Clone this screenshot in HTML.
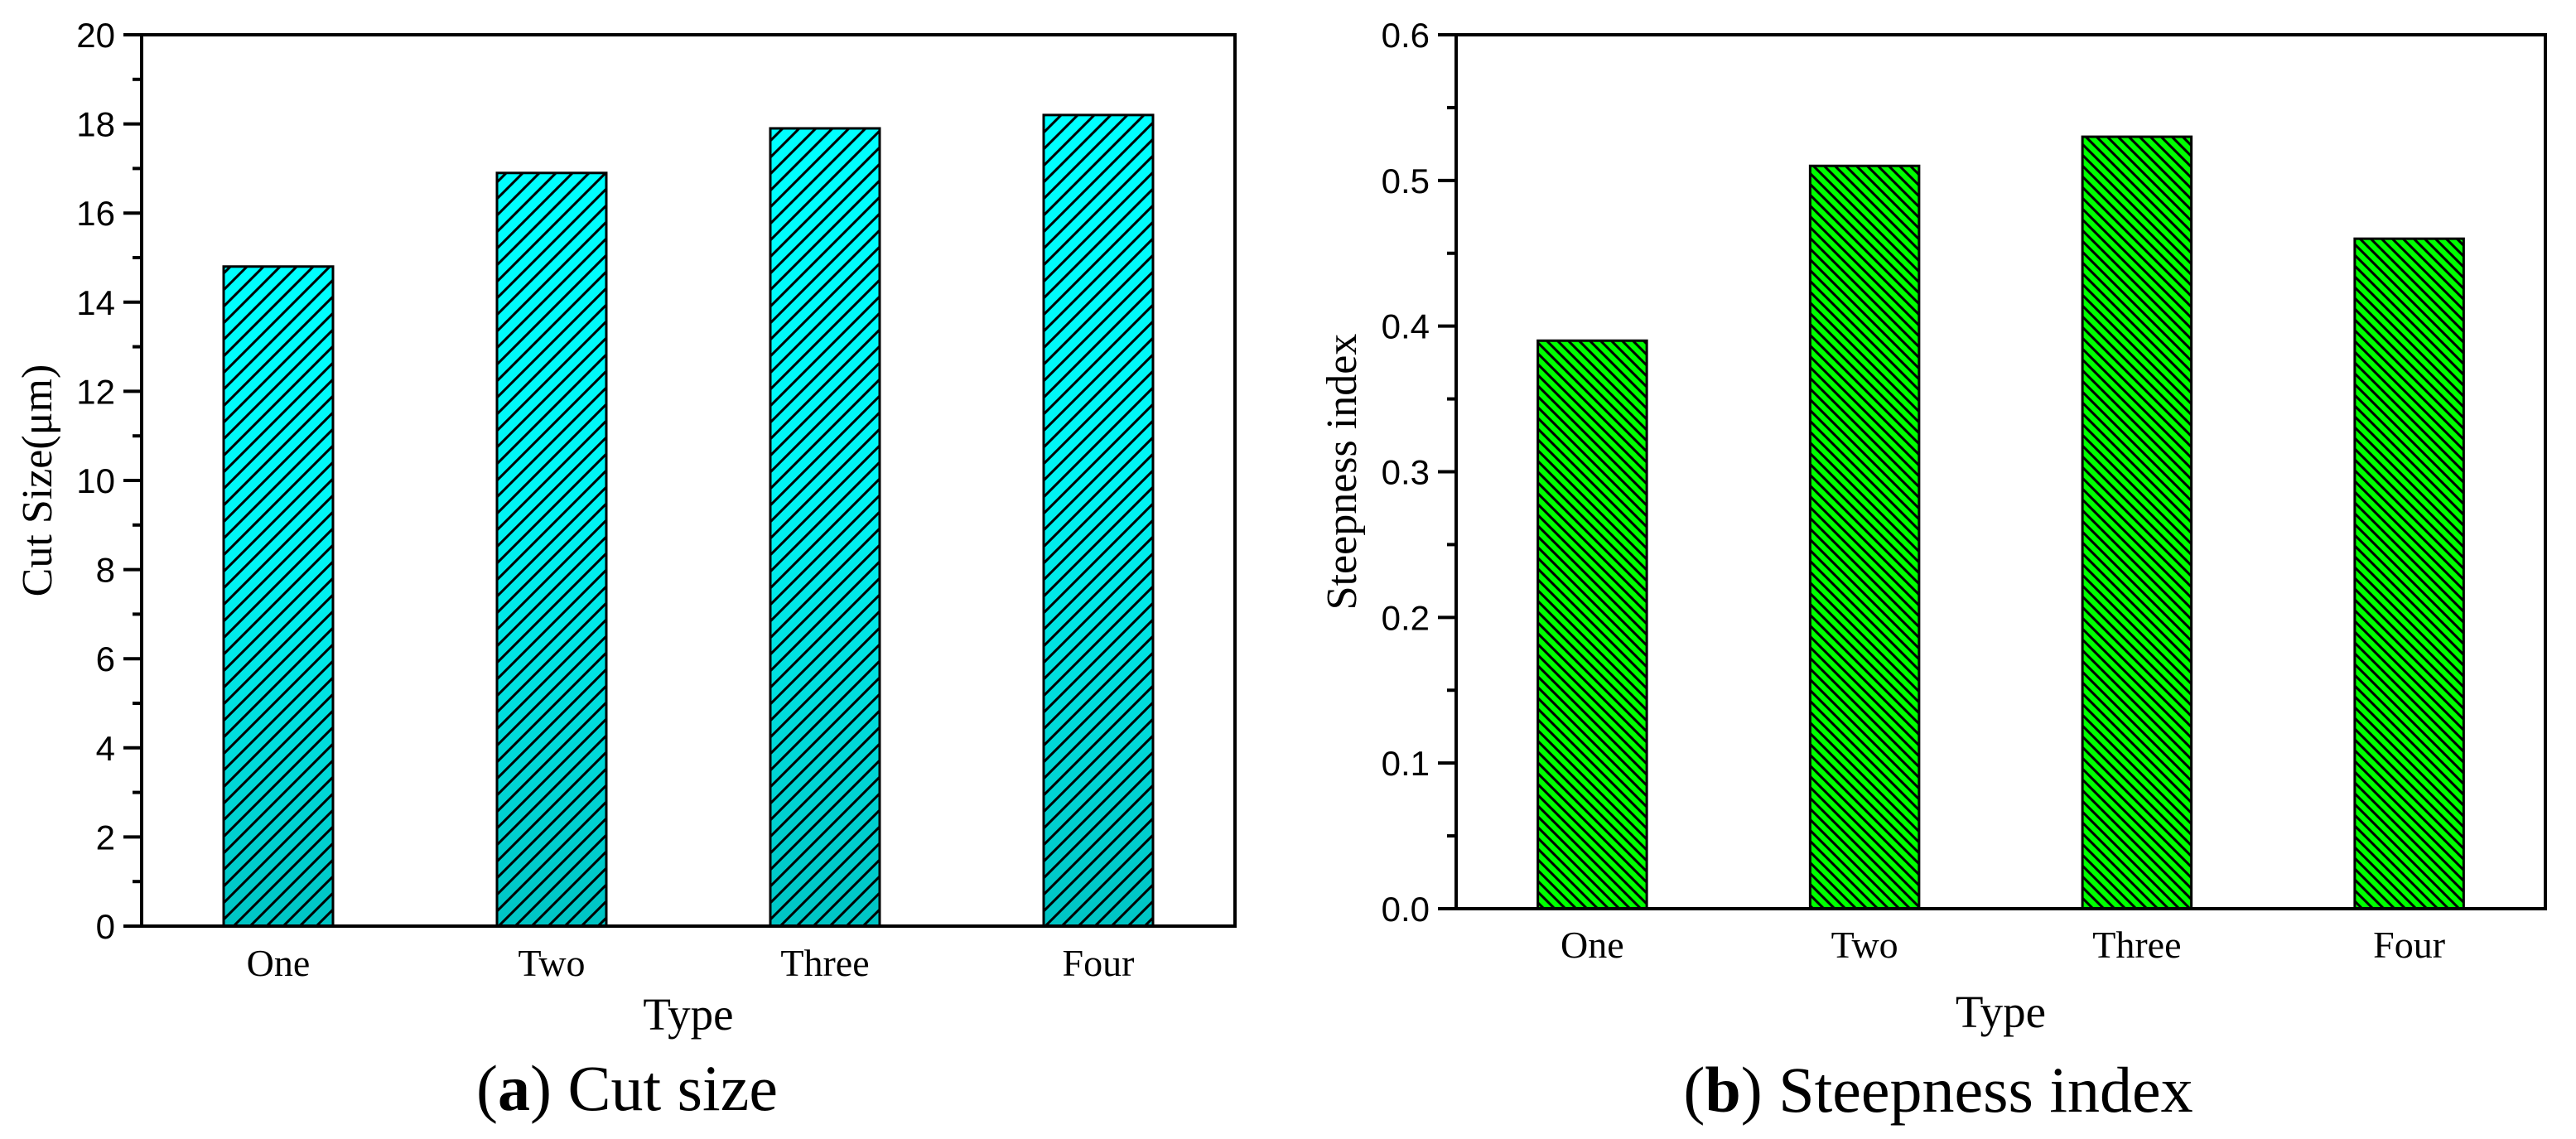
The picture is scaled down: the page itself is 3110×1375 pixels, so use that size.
<!DOCTYPE html>
<html><head><meta charset="utf-8"><style>
html,body{margin:0;padding:0;background:#fff;}
svg{display:block;}
text{font-family:"Liberation Serif",serif;fill:#000;}
.tick{font-family:"Liberation Sans",sans-serif;font-size:42px;}
</style></head><body>
<svg id="fig" width="3110" height="1375" viewBox="0 0 3110 1375" xmlns="http://www.w3.org/2000/svg">
<defs>
<linearGradient id="cyanGrad" x1="0" y1="0" x2="0" y2="1">
<stop offset="0" stop-color="#00ffff"/><stop offset="0.45" stop-color="#00f4f4"/><stop offset="1" stop-color="#00c4c4"/>
</linearGradient>
<pattern id="hatchA" patternUnits="userSpaceOnUse" width="20" height="20">
<path d="M-5,5 L5,-5 M0,20 L20,0 M15,25 L25,15" stroke="#000" stroke-width="3"/>
</pattern>
<pattern id="hatchB" patternUnits="userSpaceOnUse" width="13" height="13">
<path d="M-4,9 L4,17 M0,0 L13,13 M9,-4 L17,4" stroke="#000" stroke-width="3"/>
</pattern>
</defs>
<g id="chartA"></g>
<g id="chartB"></g>
<text x="757" y="1340" font-size="78" text-anchor="middle">(<tspan font-weight="bold">a</tspan>) Cut size</text>
<text x="2340" y="1342" font-size="78" text-anchor="middle">(<tspan font-weight="bold">b</tspan>) Steepness index</text>
</svg>
<script>
const categories = ["One","Two","Three","Four"];
const cutSizeValues = [14.8, 16.9, 17.9, 18.2];
const cutSizeTicks = ["0","2","4","6","8","10","12","14","16","18","20"];
const steepValues = [0.39, 0.51, 0.53, 0.46];
const steepTicks = ["0.0","0.1","0.2","0.3","0.4","0.5","0.6"];

const NS = "http://www.w3.org/2000/svg";
function mk(parent, tag, attrs, text){
  const e = document.createElementNS(NS, tag);
  for (const k in attrs) e.setAttribute(k, attrs[k]);
  if (text !== undefined) e.textContent = text;
  parent.appendChild(e);
  return e;
}
function drawChart(g, cfg){
  const {L,R,T,B,ymax,values,ticks,minorStep,fill,hatch,yTitle,yTitleX,prefix,xLabelY,xTitleY} = cfg;
  const y = v => B - (v / ymax) * (B - T);
  const bw = (R - L) / categories.length;
  const x = i => L + bw * (i + 0.5);
  // bars
  values.forEach((v, i) => {
    const w = bw * 0.4;
    const r1 = mk(g, "rect", {x: x(i) - w/2, y: y(v), width: w, height: B - y(v), fill: fill});
    
    
    const r2 = mk(g, "rect", {x: x(i) - w/2, y: y(v), width: w, height: B - y(v), fill: hatch, stroke: "#000", "stroke-width": 3});
    
    
    const t = mk(g, "text", {x: x(i), y: xLabelY, "font-size": 46, "text-anchor": "middle"}, categories[i]);
    
    
  });
  // frame
  const f = mk(g, "rect", {x: L, y: T, width: R - L, height: B - T, fill: "none", stroke: "#000", "stroke-width": 4});
  
  
  // ticks
  const step = ymax / (ticks.length - 1);
  ticks.forEach((lab, i) => {
    const yy = y(i * step);
    const tk = mk(g, "line", {x1: L - 22, x2: L, y1: yy, y2: yy, stroke: "#000", "stroke-width": 4});
    
    
    const tl = mk(g, "text", {x: L - 32, y: yy + 15, "text-anchor": "end", class: "tick"}, lab);
    
    
  });
  for (let v = minorStep; v < ymax; v += step) {
    const yy = y(v);
    const mt = mk(g, "line", {x1: L - 11, x2: L, y1: yy, y2: yy, stroke: "#000", "stroke-width": 4});
    
    
  }
  const xt = mk(g, "text", {x: (L + R) / 2, y: xTitleY, "font-size": 55, "text-anchor": "middle"}, "Type");
  
  
  const cy = (T + B) / 2;
  const yt = mk(g, "text", {x: yTitleX, y: cy, "font-size": 52, "text-anchor": "middle", transform: "rotate(-90 " + yTitleX + " " + cy + ")"}, yTitle);
  
  
}
drawChart(document.getElementById("chartA"), {
  L:171, R:1491, T:42, B:1118, ymax:20, values:cutSizeValues, ticks:cutSizeTicks, minorStep:1,
  fill:"url(#cyanGrad)", hatch:"url(#hatchA)", yTitle:"Cut Size(\u03bcm)", yTitleX:62, prefix:"cut-size",
  xLabelY:1178, xTitleY:1243
});
drawChart(document.getElementById("chartB"), {
  L:1758, R:3073, T:42, B:1097, ymax:0.6, values:steepValues, ticks:steepTicks, minorStep:0.05,
  fill:"#00ff00", hatch:"url(#hatchB)", yTitle:"Steepness index", yTitleX:1637, prefix:"steepness",
  xLabelY:1156, xTitleY:1240
});
</script>
</body></html>
